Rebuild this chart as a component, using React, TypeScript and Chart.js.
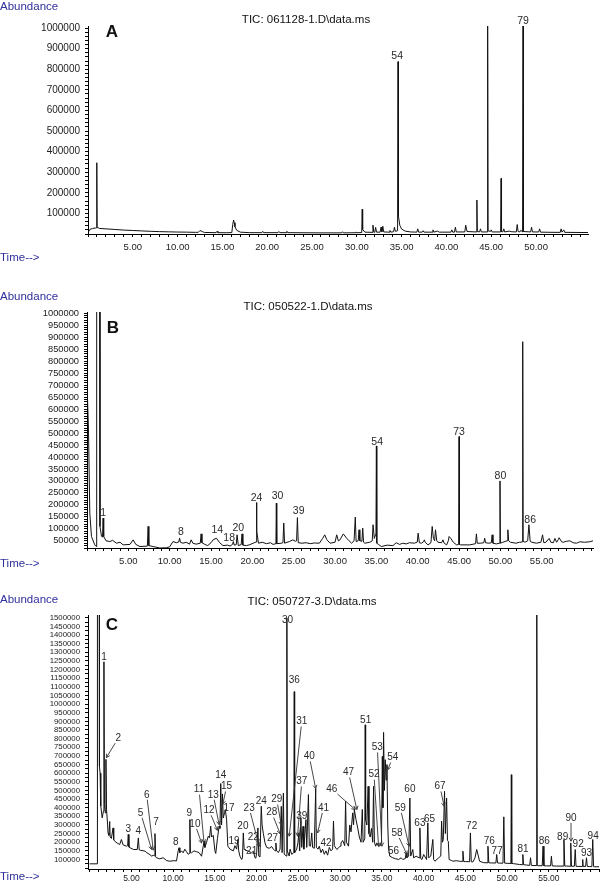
import React, { useEffect, useRef } from "react";
import { Chart, registerables } from "chart.js";

Chart.register(...registerables);

const FONT = '"Liberation Sans", Arial, Helvetica, sans-serif';
Chart.defaults.font.family = FONT;

// ================= Panel A : TIC 061128-1 =================
const timesA = [
  0, 0.2, 0.5, 0.85, 0.95, 0.98, 1.02, 1.3, 2, 3,
  4, 5, 6, 7, 8, 9, 10, 11, 12, 12.3,
  12.5, 12.8, 13.0, 14.3, 14.4, 14.5, 15.5, 16.05, 16.15, 16.25,
  16.32, 16.4, 16.6, 17.0, 18.0, 19.4, 19.5, 19.6, 21.2, 21.3,
  21.4, 22.1, 22.2, 22.3, 24.0, 26.0, 28.3, 28.4, 28.5, 29.8,
  29.9, 30.0, 30.55, 30.6, 30.65, 30.9, 31.7, 31.8, 31.9, 32.0,
  32.1, 32.2, 32.6, 32.7, 32.8, 32.9, 33.0, 33.6, 33.7, 33.8,
  34.1, 34.2, 34.3, 34.55, 34.6, 34.65, 34.8, 35.0, 35.4, 36.0,
  36.7, 36.8, 36.9, 37.3, 37.4, 37.5, 38.4, 38.5, 38.6, 39.0,
  39.2, 40.5, 40.6, 40.7, 40.9, 41.0, 41.1, 42.05, 42.15, 42.3,
  43.35, 43.4, 43.45, 43.7, 43.8, 43.9, 44.55, 44.6, 44.65, 44.9,
  45.0, 45.1, 46.05, 46.1, 46.15, 46.3, 46.4, 46.5, 47.0, 47.3,
  47.8, 47.9, 48.0, 48.2, 48.3, 48.5, 48.55, 48.6, 49.4, 49.5,
  49.6, 50.3, 50.4, 50.5, 52.0, 52.7, 52.8, 52.9, 53.0, 53.1,
  53.2, 55.8,
];
const abundanceA = [
  6000, 22000, 27000, 29000, 30000, 346000, 32000, 27000, 25000, 22000,
  19000, 17000, 15000, 13000, 11500, 10500, 9500, 9000, 8000, 8000,
  17000, 11000, 7500, 6500, 13000, 6500, 6000, 7000, 45000, 68000,
  55000, 35000, 18000, 9000, 6500, 6500, 13000, 6500, 6500, 12000,
  6500, 6500, 13000, 6500, 6000, 5500, 5500, 11000, 5500, 6000,
  10000, 6000, 7000, 120000, 22000, 9000, 8000, 43000, 9000, 8000,
  32000, 9000, 9000, 33000, 11000, 38000, 10000, 9000, 17000, 9000,
  11000, 33000, 13000, 16000, 837000, 85000, 42000, 24000, 14000, 10000,
  9000, 25000, 9000, 9000, 16000, 9000, 9000, 20000, 9000, 14000,
  9000, 9000, 20000, 9000, 9000, 33000, 10000, 10000, 43000, 12000,
  10000, 165000, 12000, 10000, 25000, 10000, 10000, 1050000, 16000, 12000,
  20000, 10000, 10000, 270000, 12000, 10000, 25000, 10000, 14000, 11000,
  10000, 46000, 12000, 10000, 18000, 10000, 1050000, 12000, 10000, 33000,
  10000, 10000, 25000, 9000, 8000, 8000, 25000, 9000, 9000, 20000,
  8000, 7000,
];
const peakTextA = ["54", "79"];
const peakTimeA = [34.5, 48.55];
const peakAbundanceA = [865000, 1032000];

// ================= Panel B : TIC 050522-1 =================
const timesB = [
  0, 0.18, 0.34, 0.54, 0.94, 1.12, 1.17, 1.52, 1.57, 1.75,
  1.88, 1.95, 2.02, 2.3, 2.76, 3.1, 3.56, 4.0, 4.37, 5.2,
  5.58, 5.9, 6.4, 7.3, 7.39, 7.48, 8.0, 8.8, 9.6, 10.0,
  10.4, 10.8, 11.1, 11.2, 11.3, 11.6, 12.0, 12.4, 12.6, 12.8,
  13.2, 13.7, 13.8, 13.9, 14.2, 14.6, 15.0, 15.25, 15.65, 16.05,
  16.45, 17.0, 17.3, 17.6, 17.7, 17.8, 18.05, 18.15, 18.3, 18.65,
  18.75, 18.85, 19.3, 19.7, 20.1, 20.45, 20.5, 20.55, 20.74, 21.2,
  21.7, 22.2, 22.5, 22.85, 22.9, 22.95, 23.5, 23.7, 23.8, 23.9,
  24.2, 24.5, 24.9, 25.2, 25.35, 25.45, 25.55, 26.0, 26.5, 27.0,
  27.5, 28.1, 28.5, 28.75, 29.0, 29.4, 30.0, 30.2, 30.4, 30.6,
  31.0, 31.4, 31.7, 32.0, 32.3, 32.45, 32.55, 32.8, 32.9, 33.0,
  33.25, 33.35, 33.45, 33.6, 34.2, 34.5, 34.6, 34.75, 34.95, 35.0,
  35.05, 35.25, 35.6, 36.3, 37.0, 37.4, 37.8, 38.2, 38.6, 39.0,
  39.6, 39.95, 40.05, 40.2, 40.45, 40.7, 40.8, 40.9, 41.25, 41.6,
  41.75, 41.9, 42.05, 42.15, 42.3, 42.45, 42.9, 43.05, 43.2, 43.5,
  43.7, 43.8, 44.0, 44.3, 44.7, 44.95, 45.0, 45.05, 45.2, 46.3,
  47.0, 47.1, 47.2, 47.6, 48.0, 48.1, 48.2, 48.6, 48.9, 49.0,
  49.1, 49.5, 49.9, 49.95, 50.0, 50.3, 50.8, 50.9, 51.0, 51.2,
  51.9, 52.3, 52.65, 52.7, 52.75, 52.97, 53.3, 53.45, 53.6, 53.8,
  54.35, 54.9, 55.1, 55.25, 55.5, 55.9, 56.1, 56.4, 56.6, 56.8,
  57.0, 57.1, 57.4, 57.6, 58.0, 58.4, 58.8, 59.2, 59.6, 60.2,
  60.8, 61.2,
];
const abundanceB = [
  708000, 513000, 165000, 68000, 33000, 26000, 2500000, 2500000, 110000, 70000,
  65000, 145000, 68000, 50000, 47000, 52000, 40000, 44000, 33000, 35000,
  54000, 35000, 26000, 28000, 110000, 30000, 26000, 20000, 21000, 25000,
  47000, 42000, 45000, 61000, 44000, 40000, 44000, 36000, 54000, 40000,
  36000, 40000, 79000, 42000, 36000, 30000, 42000, 54000, 61000, 42000,
  30000, 32000, 28000, 35000, 47000, 32000, 34000, 75000, 30000, 34000,
  79000, 32000, 30000, 34000, 40000, 45000, 210000, 90000, 40000, 44000,
  38000, 42000, 35000, 38000, 207000, 38000, 40000, 42000, 124000, 40000,
  44000, 47000, 54000, 48000, 50000, 147000, 42000, 40000, 42000, 38000,
  41000, 40000, 60000, 75000, 55000, 40000, 44000, 75000, 50000, 54000,
  79000, 61000, 50000, 40000, 50000, 149000, 47000, 50000, 96000, 50000,
  48000, 103000, 44000, 40000, 44000, 50000, 117000, 60000, 80000, 446000,
  40000, 35000, 26000, 32000, 30000, 42000, 35000, 40000, 37000, 42000,
  40000, 45000, 82000, 42000, 40000, 46000, 54000, 44000, 33000, 42000,
  110000, 60000, 50000, 96000, 50000, 44000, 42000, 54000, 40000, 33000,
  50000, 68000, 60000, 44000, 33000, 35000, 485000, 35000, 33000, 33000,
  38000, 79000, 40000, 40000, 42000, 61000, 42000, 40000, 42000, 75000,
  40000, 37000, 40000, 300000, 40000, 44000, 50000, 96000, 50000, 44000,
  40000, 44000, 45000, 881000, 48000, 44000, 50000, 117000, 48000, 44000,
  40000, 44000, 75000, 42000, 44000, 60000, 44000, 42000, 60000, 44000,
  55000, 63000, 46000, 44000, 48000, 50000, 42000, 40000, 46000, 44000,
  46000, 50000,
];
const peakTextB = ["1", "8", "14", "18", "20", "24", "30", "39", "54", "73", "80", "86"];
const peakTimeB = [1.95, 11.35, 15.75, 17.2, 18.3, 20.5, 23.05, 25.6, 35.1, 45.0, 50.0, 53.6];
const peakAbundanceB = [166000, 85000, 93000, 61000, 103000, 228000, 235000, 172000, 464000, 502000, 318000, 135000];

// ================= Panel C : TIC 050727-3 =================
const timesC = [
  0, 0.9, 0.93, 1.14, 1.17, 1.25, 1.33, 1.5, 1.65, 1.71,
  1.77, 1.87, 1.95, 2.02, 2.15, 2.2, 2.3, 2.4, 2.45, 2.6,
  2.8, 2.88, 3.0, 3.3, 3.6, 3.8, 4.0, 4.4, 4.55, 4.62,
  4.7, 4.85, 5.25, 5.7, 5.83, 5.93, 6.05, 6.65, 6.85, 7.1,
  7.45, 7.6, 7.75, 7.82, 7.9, 8.0, 8.4, 8.8, 9.2, 9.6,
  10.0, 10.4, 10.6, 10.7, 10.8, 11.0, 11.2, 11.4, 11.6, 11.8,
  11.93, 12.0, 12.07, 12.2, 12.5, 12.8, 13.1, 13.4, 13.6, 13.7,
  13.8, 14.0, 14.2, 14.35, 14.5, 14.6, 14.8, 15.0, 15.1, 15.3,
  15.5, 15.6, 15.7, 15.8, 15.9, 16.0, 16.15, 16.25, 16.4, 16.55,
  16.8, 17.2, 17.4, 17.6, 17.75, 17.85, 18.0, 18.2, 18.3, 18.4,
  18.5, 18.6, 19.0, 19.4, 19.6, 19.8, 19.9, 20.0, 20.15, 20.25,
  20.4, 20.55, 20.65, 20.8, 21.0, 21.2, 21.5, 21.8, 22.0, 22.2,
  22.3, 22.4, 22.6, 22.8, 22.95, 23.05, 23.2, 23.3, 23.57, 23.62,
  23.67, 23.9, 24.0, 24.2, 24.45, 24.5, 24.55, 24.8, 24.95, 25.05,
  25.15, 25.3, 25.4, 25.55, 25.65, 25.9, 26.0, 26.2, 26.3, 26.45,
  26.6, 26.7, 26.9, 27.07, 27.15, 27.35, 27.5, 27.7, 27.9, 28.1,
  28.3, 28.5, 28.7, 28.9, 29.1, 29.2, 29.3, 29.6, 30.0, 30.1,
  30.3, 30.55, 30.65, 30.75, 31.0, 31.15, 31.3, 31.5, 31.6, 31.7,
  31.9, 32.1, 32.3, 32.5, 32.65, 32.75, 32.95, 33.0, 33.05, 33.2,
  33.35, 33.45, 33.6, 33.75, 33.9, 34.0, 34.1, 34.25, 34.4, 34.6,
  34.8, 34.95, 35.05, 35.12, 35.2, 35.3, 35.4, 35.5, 35.6, 35.7,
  35.8, 35.95, 36.3, 36.6, 37.0, 37.3, 37.5, 37.8, 37.9, 38.0,
  38.2, 38.35, 38.45, 38.7, 38.8, 39.1, 39.45, 39.55, 39.65, 39.8,
  40.0, 40.35, 40.5, 40.6, 40.85, 41.1, 41.2, 41.35, 41.8, 42.05,
  42.15, 42.25, 42.35, 42.5, 42.6, 42.75, 42.85, 42.95, 43.05, 43.3,
  43.5, 43.9, 44.3, 44.6, 44.7, 44.8, 45.0, 45.5, 45.6, 45.7,
  45.9, 46.15, 46.35, 46.55, 46.7, 47.15, 47.6, 47.7, 47.8, 48.1,
  48.65, 48.75, 48.85, 49.1, 49.5, 49.6, 49.7, 50.0, 50.45, 50.5,
  50.55, 50.75, 51.5, 51.8, 51.88, 51.96, 52.3, 52.7, 52.8, 52.9,
  53.1, 53.5, 53.55, 53.6, 53.8, 54.2, 54.3, 54.4, 54.7, 55.2,
  55.3, 55.4, 55.9, 56.7, 56.8, 56.9, 57.1, 57.55, 57.62, 57.7,
  58.05, 58.15, 58.25, 58.5, 59.0, 59.05, 59.1, 59.4, 59.5, 59.6,
  59.9, 60.15, 60.25, 60.35, 60.5, 61.0,
];
const abundanceC = [
  75000, 75000, 2500000, 2500000, 640000, 600000, 410000, 341000, 380000, 1245000,
  420000, 370000, 680000, 390000, 300000, 254000, 240000, 320000, 230000, 222000,
  283000, 215000, 206000, 195000, 187000, 216000, 185000, 177000, 180000, 245000,
  172000, 168000, 158000, 158000, 225000, 156000, 154000, 148000, 139000, 132000,
  119000, 125000, 122000, 250000, 115000, 110000, 104000, 110000, 94000, 90000,
  93000, 92000, 150000, 168000, 140000, 150000, 139000, 160000, 145000, 130000,
  135000, 331000, 140000, 139000, 150000, 145000, 140000, 119000, 177000, 206000,
  170000, 200000, 235000, 225000, 293000, 230000, 240000, 150000, 135000, 220000,
  293000, 280000, 540000, 300000, 480000, 340000, 370000, 389000, 330000, 177000,
  160000, 150000, 180000, 160000, 216000, 150000, 119000, 100000, 110000, 254000,
  160000, 155000, 148000, 139000, 148000, 110000, 108000, 139000, 283000, 120000,
  115000, 408000, 300000, 250000, 196000, 170000, 165000, 175000, 160000, 150000,
  196000, 150000, 140000, 160000, 408000, 140000, 485000, 130000, 120000, 1500000,
  150000, 120000, 160000, 130000, 140000, 1072000, 140000, 160000, 200000, 254000,
  150000, 341000, 170000, 292000, 160000, 331000, 170000, 476000, 180000, 177000,
  254000, 170000, 165000, 510000, 170000, 160000, 177000, 140000, 160000, 130000,
  150000, 125000, 170000, 150000, 160000, 322000, 180000, 158000, 177000, 196000,
  210000, 180000, 437000, 200000, 177000, 300000, 260000, 370000, 300000, 389000,
  330000, 283000, 230000, 200000, 390000, 200000, 220000, 880000, 330000, 300000,
  524000, 250000, 230000, 280000, 200000, 524000, 200000, 177000, 196000, 177000,
  180000, 200000, 697000, 400000, 836000, 500000, 678000, 560000, 650000, 300000,
  160000, 119000, 110000, 105000, 100000, 110000, 100000, 105000, 139000, 110000,
  120000, 456000, 120000, 158000, 110000, 119000, 110000, 283000, 105000, 100000,
  129000, 100000, 312000, 110000, 120000, 216000, 100000, 90000, 110000, 120000,
  322000, 200000, 216000, 495000, 250000, 456000, 210000, 206000, 100000, 95000,
  90000, 93000, 90000, 89000, 148000, 88000, 88000, 87000, 254000, 87000,
  86000, 110000, 158000, 120000, 90000, 82000, 81000, 177000, 81000, 80000,
  80000, 129000, 80000, 79000, 79000, 347000, 79000, 78000, 77000, 591000,
  77000, 76000, 71000, 70000, 129000, 70000, 68000, 66000, 110000, 66000,
  65000, 65000, 1530000, 65000, 64000, 64000, 177000, 64000, 63000, 63000,
  119000, 63000, 62000, 62000, 216000, 62000, 62000, 61000, 196000, 61000,
  61000, 158000, 61000, 60000, 60000, 100000, 60000, 60000, 110000, 60000,
  59000, 59000, 216000, 59000, 58000, 58000,
];
const peakTextC = [
  "1", "2", "3", "4", "5", "6", "7", "8", "9", "10",
  "11", "12", "13", "14", "15", "17", "19", "20", "21", "22",
  "23", "24", "27", "28", "29", "30", "36", "31", "37", "39",
  "40", "41", "42", "46", "47", "51", "52", "53", "54", "56",
  "58", "59", "60", "63", "65", "67", "72", "76", "77", "81",
  "86", "89", "90", "92", "93", "94",
];
const peakTimeC = [
  1.71, 3.43, 4.63, 5.83, 6.1, 6.83, 7.94, 10.3, 11.93, 12.6,
  13.1, 14.3, 14.8, 15.7, 16.4, 16.7, 17.3, 18.35, 19.4, 19.6,
  19.1, 20.55, 21.9, 21.8, 22.4, 23.7, 24.5, 25.4, 25.4, 25.4,
  26.3, 28.0, 28.3, 29.0, 31.0, 33.05, 34.05, 34.45, 36.3, 36.4,
  36.8, 37.2, 38.35, 39.55, 40.7, 41.95, 45.75, 47.85, 48.8, 51.9,
  54.45, 56.65, 57.65, 58.5, 59.5, 60.3,
];
const peakAbundanceC = [
  1274000, 803000, 277000, 265000, 370000, 475000, 318000, 202000, 370000, 306000,
  504000, 385000, 475000, 590000, 523000, 395000, 206000, 290000, 148000, 231000,
  399000, 437000, 225000, 372000, 447000, 1486000, 1140000, 899000, 552000, 350000,
  697000, 399000, 195000, 508000, 604000, 909000, 591000, 749000, 691000, 148000,
  254000, 399000, 504000, 310000, 335000, 523000, 290000, 206000, 148000, 162000,
  206000, 231000, 341000, 187000, 135000, 235000,
];
const arrowTimeC = [
  null, 2.0, null, null, 7.42, 7.62, null, null, null, 13.4,
  13.7, 15.3, 15.5, null, 15.95, null, null, null, null, 20.4,
  20.2, null, null, 22.8, 22.95, null, null, 23.9, 24.9, 25.1,
  27.07, 27.3, null, 31.8, 32.0, null, 34.6, 35.0, 35.7, null,
  38.0, 38.25, null, null, null, 42.45, null, null, null, null,
  null, null, 57.65, null, null, null,
];
const arrowAbundanceC = [
  null, 690000, null, null, 158000, 154000, null, null, null, 196000,
  196000, 269000, 302000, null, 420000, null, null, null, null, 177000,
  196000, null, null, 250000, 300000, null, null, 235000, 235000, 235000,
  510000, 254000, null, 389000, 389000, null, 177000, 177000, 620000, null,
  129000, 177000, null, null, null, 408000, null, null, null, null,
  null, null, 206000, null, null, null,
];

type PanelDef = {
  key: string;
  title: string;
  top: number;
  height: number;
  times: number[];
  abundance: number[];
  labelText: string[];
  labelTime: number[];
  labelAbundance: number[];
  arrowTime?: (number | null)[];
  arrowAbundance?: (number | null)[];
  xMin: number;
  xMax: number;
  xLabelEnd: number;
  yMin: number;
  yMax: number;
  yMinorStep: number;
  yMajorStep: number;
  yLabelFrom: number;
  padding: { top: number; bottom: number; left: number; right: number };
  yWidth: number;
  xHeight: number;
  yFont: number;
  xFont: number;
  xPad: number;
  labelFont: number;
  abundanceY: number;
  timeY: number;
  titleX: number;
  titleY: number;
  letterX: number;
  letterY: number;
};

const panels: PanelDef[] = [
  {
    key: "A", title: "TIC: 061128-1.D\\data.ms", top: 0, height: 280,
    times: timesA, abundance: abundanceA,
    labelText: peakTextA, labelTime: peakTimeA, labelAbundance: peakAbundanceA,
    xMin: 0, xMax: 55.8, xLabelEnd: 50,
    yMin: 0, yMax: 1010000, yMinorStep: 20000, yMajorStep: 100000, yLabelFrom: 100000,
    padding: { top: 26, bottom: 26, left: 0, right: 14 }, yWidth: 88, xHeight: 20,
    yFont: 10, xFont: 9.5, xPad: 5, labelFont: 10.5,
    abundanceY: 7, timeY: 258, titleX: 306, titleY: 20, letterX: 112, letterY: 31,
  },
  {
    key: "B", title: "TIC: 050522-1.D\\data.ms", top: 280, height: 300,
    times: timesB, abundance: abundanceB,
    labelText: peakTextB, labelTime: peakTimeB, labelAbundance: peakAbundanceB,
    xMin: 0, xMax: 61.2, xLabelEnd: 55,
    yMin: 20000, yMax: 1005000, yMinorStep: 10000, yMajorStep: 50000, yLabelFrom: 50000,
    padding: { top: 32, bottom: 12, left: 0, right: 9 }, yWidth: 87, xHeight: 20,
    yFont: 9.3, xFont: 9.5, xPad: 5, labelFont: 10.5,
    abundanceY: 297, timeY: 564, titleX: 308, titleY: 307, letterX: 113, letterY: 327,
  },
  {
    key: "C", title: "TIC: 050727-3.D\\data.ms", top: 580, height: 305,
    times: timesC, abundance: abundanceC,
    labelText: peakTextC, labelTime: peakTimeC, labelAbundance: peakAbundanceC,
    arrowTime: arrowTimeC, arrowAbundance: arrowAbundanceC,
    xMin: -0.2, xMax: 61.0, xLabelEnd: 55,
    yMin: 45000, yMax: 1516000, yMinorStep: 25000, yMajorStep: 50000, yLabelFrom: 100000,
    padding: { top: 35, bottom: 0, left: 0, right: 3 }, yWidth: 88, xHeight: 16,
    yFont: 7.8, xFont: 8.5, xPad: 2, labelFont: 10,
    abundanceY: 600, timeY: 877, titleX: 312, titleY: 602, letterX: 112, letterY: 624,
  },
];

function stepTicks(min: number, max: number, step: number) {
  const out: { value: number }[] = [];
  const start = Math.ceil(min / step - 1e-9) * step;
  for (let v = start; v <= max + 1e-9; v += step) {
    out.push({ value: Math.round(v * 1e6) / 1e6 });
  }
  return out;
}

function labelPlugin(p: PanelDef) {
  return {
    id: "peakLabels" + p.key,
    afterDatasetsDraw(chart: any) {
      const ctx: CanvasRenderingContext2D = chart.ctx;
      const xs = chart.scales.x;
      const ys = chart.scales.y;
      ctx.save();
      ctx.font = `${p.labelFont}px ${FONT}`;
      ctx.fillStyle = "#2a2a2a";
      ctx.strokeStyle = "#333";
      ctx.lineWidth = 0.9;
      ctx.textAlign = "center";
      ctx.textBaseline = "middle";
      p.labelText.forEach((txt, i) => {
        const lx = xs.getPixelForValue(p.labelTime[i]);
        const ly = ys.getPixelForValue(p.labelAbundance[i]);
        ctx.fillText(txt, lx, ly);
        const at = p.arrowTime ? p.arrowTime[i] : null;
        const aa = p.arrowAbundance ? p.arrowAbundance[i] : null;
        if (at != null && aa != null) {
          const tx = xs.getPixelForValue(at);
          const ty = ys.getPixelForValue(aa);
          const dx = tx - lx;
          const dy = ty - ly;
          const len = Math.hypot(dx, dy) || 1;
          const ux = dx / len;
          const uy = dy / len;
          const hw = ctx.measureText(txt).width / 2 + 1;
          const hh = 5;
          const s = Math.min(
            Math.abs(ux) > 1e-6 ? hw / Math.abs(ux) : Infinity,
            Math.abs(uy) > 1e-6 ? hh / Math.abs(uy) : Infinity
          );
          ctx.beginPath();
          ctx.moveTo(lx + ux * s, ly + uy * s);
          ctx.lineTo(tx, ty);
          ctx.stroke();
          const ang = Math.atan2(dy, dx);
          const ah = 4;
          ctx.beginPath();
          ctx.moveTo(tx - ah * Math.cos(ang - 0.5), ty - ah * Math.sin(ang - 0.5));
          ctx.lineTo(tx, ty);
          ctx.lineTo(tx - ah * Math.cos(ang + 0.5), ty - ah * Math.sin(ang + 0.5));
          ctx.stroke();
        }
      });
      ctx.restore();
    },
  };
}

function buildChart(canvas: HTMLCanvasElement, p: PanelDef) {
  const points = p.times.map((t, i) => ({ x: t, y: p.abundance[i] }));
  return new Chart(canvas, {
    type: "line",
    data: {
      datasets: [
        {
          data: points,
          borderColor: "#111",
          borderWidth: 1,
          pointRadius: 0,
          tension: 0,
          fill: false,
        },
      ],
    },
    options: {
      responsive: false,
      animation: false,
      events: [],
      layout: { padding: p.padding },
      plugins: { legend: { display: false }, tooltip: { enabled: false }, title: { display: false } },
      scales: {
        x: {
          type: "linear",
          min: p.xMin,
          max: p.xMax,
          bounds: "data",
          afterFit: (s: any) => { s.height = p.xHeight; },
          afterBuildTicks: (s: any) => { s.ticks = stepTicks(s.min, s.max, 1); },
          ticks: {
            autoSkip: false,
            maxRotation: 0,
            minRotation: 0,
            padding: p.xPad,
            color: "#222",
            font: { family: FONT, size: p.xFont },
            callback: (v: any) => {
              const n = Number(v);
              return Math.abs(n % 5) < 1e-6 && n > 0 && n <= p.xLabelEnd ? n.toFixed(2) : "";
            },
          },
          grid: { drawOnChartArea: false, drawTicks: true, tickLength: 3, color: "#000", lineWidth: 1 },
          border: { display: true, color: "#000", width: 1 },
        },
        y: {
          type: "linear",
          min: p.yMin,
          max: p.yMax,
          bounds: "data",
          afterFit: (s: any) => { s.width = p.yWidth; },
          afterBuildTicks: (s: any) => { s.ticks = stepTicks(s.min, s.max, p.yMinorStep); },
          ticks: {
            autoSkip: false,
            padding: 5,
            color: "#222",
            font: { family: FONT, size: p.yFont },
            callback: (v: any) => {
              const n = Number(v);
              return Math.abs(n % p.yMajorStep) < 1e-6 && n >= p.yLabelFrom ? String(Math.round(n)) : "";
            },
          },
          grid: { drawOnChartArea: false, drawTicks: true, tickLength: 3, color: "#000", lineWidth: 1 },
          border: { display: true, color: "#000", width: 1 },
        },
      },
    },
    plugins: [labelPlugin(p)],
  } as any);
}

const blue = "#2f2f9c";

function PanelView({ p }: { p: PanelDef }) {
  const ref = useRef<HTMLCanvasElement>(null);
  useEffect(() => {
    const chart = buildChart(ref.current as HTMLCanvasElement, p);
    return () => chart.destroy();
  }, [p]);
  const base: React.CSSProperties = {
    position: "absolute",
    whiteSpace: "nowrap",
    lineHeight: 1,
    fontFamily: FONT,
  };
  return (
    <>
      <canvas
        ref={ref}
        width={602}
        height={p.height}
        style={{ position: "absolute", left: 0, top: p.top, width: 602, height: p.height }}
      />
      <div style={{ ...base, left: 0, top: p.abundanceY, transform: "translateY(-50%)", fontSize: 11.5, color: blue }}>
        Abundance
      </div>
      <div style={{ ...base, left: 0, top: p.timeY, transform: "translateY(-50%)", fontSize: 11.5, color: blue }}>
        Time--&gt;
      </div>
      <div style={{ ...base, left: p.titleX, top: p.titleY, transform: "translate(-50%, -50%)", fontSize: 11.5, color: "#111" }}>
        {p.title}
      </div>
      <div style={{ ...base, left: p.letterX, top: p.letterY, transform: "translate(-50%, -50%)", fontSize: 17, fontWeight: "bold", color: "#111" }}>
        {p.key}
      </div>
    </>
  );
}

export default function App() {
  return (
    <div style={{ position: "absolute", left: 0, top: 0, width: 602, height: 885, background: "#fff", overflow: "hidden" }}>
      {panels.map((p) => (
        <PanelView key={p.key} p={p} />
      ))}
    </div>
  );
}
